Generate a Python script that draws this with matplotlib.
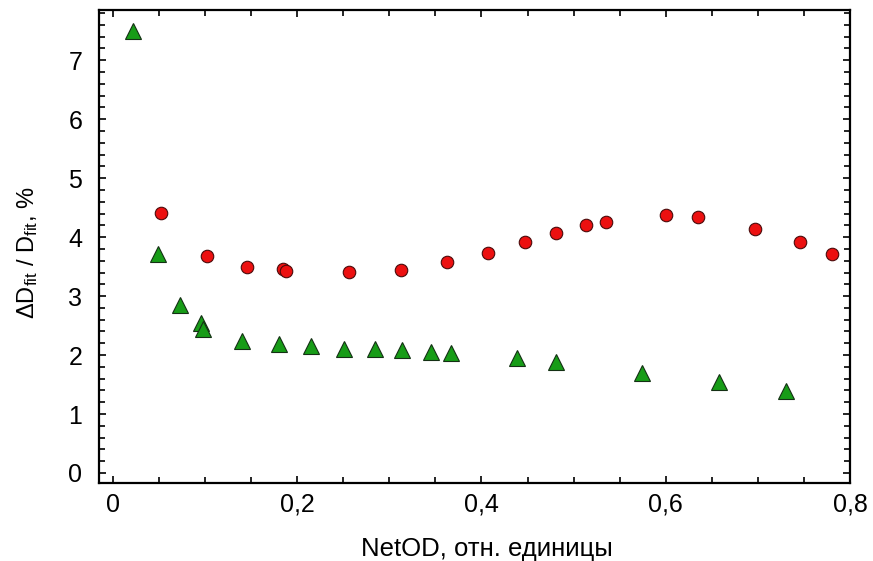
import numpy as np
import matplotlib.pyplot as plt
from matplotlib.ticker import MultipleLocator, FuncFormatter

plt.rcParams['font.family'] = ['Liberation Sans', 'DejaVu Sans']
plt.rcParams['mathtext.default'] = 'regular'

# red circles
netod_red = [0.052, 0.102, 0.146, 0.185, 0.188, 0.256, 0.313, 0.363, 0.407,
             0.447, 0.481, 0.513, 0.535, 0.600, 0.635, 0.697, 0.746, 0.780]
err_red = [4.41, 3.68, 3.49, 3.46, 3.42, 3.41, 3.44, 3.58, 3.73,
           3.92, 4.07, 4.20, 4.25, 4.37, 4.34, 4.14, 3.92, 3.71]

# green triangles
netod_green = [0.022, 0.049, 0.073, 0.096, 0.098, 0.140, 0.180, 0.215, 0.251,
               0.285, 0.314, 0.345, 0.367, 0.439, 0.481, 0.574, 0.658, 0.731]
err_green = [7.50, 3.71, 2.85, 2.54, 2.44, 2.24, 2.19, 2.15, 2.10,
             2.10, 2.08, 2.05, 2.03, 1.95, 1.88, 1.69, 1.54, 1.39]

fig = plt.figure(figsize=(8.73, 5.61), dpi=100)
ax = fig.add_axes([0.1134, 0.139, 0.8603, 0.843])

ax.plot(netod_green, err_green, linestyle='none', marker='^', markersize=11,
        markerfacecolor='#179c17', markeredgecolor='#143014', markeredgewidth=0.8)
ax.plot(netod_red, err_red, linestyle='none', marker='o', markersize=9,
        markerfacecolor='#ec1010', markeredgecolor='#4a0a0a', markeredgewidth=0.8)

ax.set_xlim(-0.015, 0.8)
ax.set_ylim(-0.17, 7.85)

ax.xaxis.set_major_locator(MultipleLocator(0.2))
ax.xaxis.set_minor_locator(MultipleLocator(0.05))
ax.yaxis.set_major_locator(MultipleLocator(1))
ax.yaxis.set_minor_locator(MultipleLocator(0.2))

comma = FuncFormatter(lambda v, pos: ('%g' % round(v, 3)).replace('.', ','))
ax.xaxis.set_major_formatter(comma)
ax.yaxis.set_major_formatter(comma)

ax.tick_params(which='both', direction='in', top=True, right=True,
               width=1.2, labelsize=18)
ax.tick_params(which='major', length=5)
ax.tick_params(which='minor', length=4)
ax.tick_params(axis='x', which='major', pad=7)
ax.tick_params(axis='y', which='major', pad=12)
for s in ax.spines.values():
    s.set_linewidth(1.6)

ax.set_xlabel('NetOD, отн. единицы', fontsize=18.5)
ax.set_ylabel(r'$\Delta$D$_{fit}$ / D$_{fit}$, %', fontsize=17)
ax.xaxis.set_label_coords(0.517, -0.115)
ax.yaxis.set_label_coords(-0.078, 0.487)

fig.savefig('out.png', dpi=100)
